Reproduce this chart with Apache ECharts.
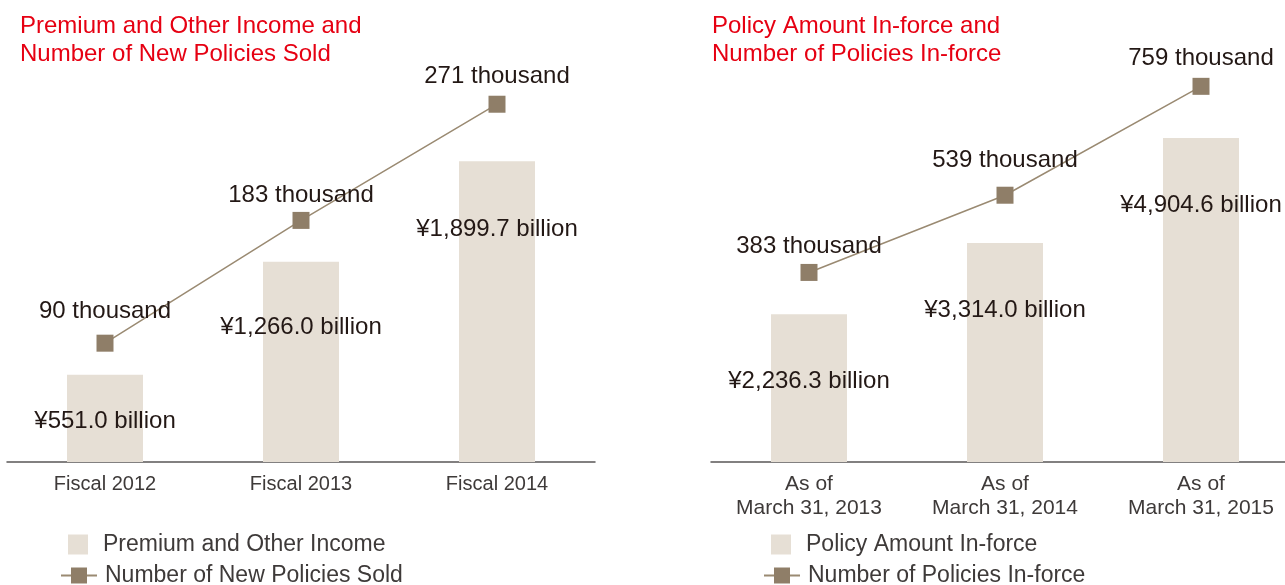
<!DOCTYPE html>
<html>
<head>
<meta charset="utf-8">
<script src="https://cdn.jsdelivr.net/npm/echarts@6/dist/echarts.min.js"></script>
<style>
html,body{margin:0;padding:0;background:#fff;}
#c{width:1285px;height:585px;}
</style>
</head>
<body>
<div id="c"></div>
<script>
// ---- data ----
const leftTitle = 'Premium and Other Income and\nNumber of New Policies Sold';
const rightTitle = 'Policy Amount In-force and\nNumber of Policies In-force';
const leftCategories = ['Fiscal 2012', 'Fiscal 2013', 'Fiscal 2014'];
const rightCategories = ['As of\nMarch 31, 2013', 'As of\nMarch 31, 2014', 'As of\nMarch 31, 2015'];
const leftBarName = 'Premium and Other Income';
const leftLineName = 'Number of New Policies Sold';
const rightBarName = 'Policy Amount In-force';
const rightLineName = 'Number of Policies In-force';
const premiumIncome = [551.0, 1266.0, 1899.7];      // ¥ billion
const newPolicies = [90, 183, 271];                 // thousand
const policyAmount = [2236.3, 3314.0, 4904.6];      // ¥ billion
const policiesInForce = [383, 539, 759];            // thousand

// ---- layout / style ----
const FONT = '"Liberation Sans", Arial, Helvetica, sans-serif';
const BAR_COLOR = '#e6dfd5';
const MARK_COLOR = '#8f7e68';
const LINE_COLOR = '#9a8a72';
const TEXT_COLOR = '#231815';
const AXIS_TEXT = '#3e3a39';
const TITLE_RED = '#e60012';
const GRID_TOP = 60, GRID_H = 402;
const leftBarMax = 2540, leftLineMax = 304.5;
const rightBarMax = 6083, rightLineMax = 812.2;
const leftBarLabelNudge = [-19, 0, 2];
const rightBarLabelNudge = [1, 1, 1];
const leftLineLabelNudge = [-3.5, 3, 0];
const rightLineLabelNudge = [2, -6.5, 0];

function fmtBillion(v) {
  const s = v.toFixed(1).split('.');
  return '¥' + s[0].replace(/\B(?=(\d{3})+(?!\d))/g, ',') + '.' + s[1] + ' billion';
}

function itemData(values, nudges) {
  return values.map((v, i) => ({ value: v, label: { offset: [0, nudges[i]] } }));
}

const chart = echarts.init(document.getElementById('c'), null, { renderer: 'canvas' });

function xAxis(gridIndex, data, fontSize) {
  return {
    type: 'category', gridIndex: gridIndex, data: data,
    axisTick: { show: false },
    axisLine: { lineStyle: { color: '#595757', width: 1.5 } },
    axisLabel: { color: AXIS_TEXT, fontSize: fontSize, fontFamily: FONT, lineHeight: 24, margin: 10 },
    splitLine: { show: false }
  };
}
function yAxis(gridIndex, max) {
  return { type: 'value', gridIndex: gridIndex, min: 0, max: max, show: false, splitLine: { show: false } };
}

function barSeries(name, values, xi, yi, nudges) {
  return {
    name: name, type: 'bar', xAxisIndex: xi, yAxisIndex: yi,
    data: itemData(values, nudges), barWidth: 76,
    itemStyle: { color: BAR_COLOR },
    label: {
      show: true, position: 'insideTop', distance: 54,
      formatter: p => fmtBillion(p.value),
      color: TEXT_COLOR, fontSize: 24, fontFamily: FONT
    },
    z: 2
  };
}
function lineSeries(name, values, xi, yi, nudges) {
  return {
    name: name, type: 'line', xAxisIndex: xi, yAxisIndex: yi,
    data: itemData(values, nudges),
    symbol: 'rect', symbolSize: 17,
    itemStyle: { color: MARK_COLOR },
    lineStyle: { color: LINE_COLOR, width: 1.5 },
    label: {
      show: true, position: 'top', distance: 7.5,
      formatter: p => p.value + ' thousand',
      color: TEXT_COLOR, fontSize: 24, fontFamily: FONT
    },
    z: 3
  };
}

function barLegend(left, top, name) {
  return {
    left: left, top: top, padding: 0, itemWidth: 20, itemHeight: 20,
    data: [{ name: name, icon: 'rect' }],
    textStyle: { color: AXIS_TEXT, fontSize: 23, fontFamily: FONT, padding: [0, 0, 0, 10] }
  };
}
function lineLegend(left, top, name) {
  return {
    left: left, top: top, padding: 0, itemWidth: 36, itemHeight: 20,
    data: [{ name: name }],
    textStyle: { color: AXIS_TEXT, fontSize: 23, fontFamily: FONT, padding: [0, 0, 0, 3] }
  };
}
function title(text, left) {
  return { text: text, left: left, top: 12, padding: 0,
    textStyle: { color: TITLE_RED, fontSize: 24, fontWeight: 'normal', fontFamily: FONT, lineHeight: 28 } };
}

chart.setOption({
  animation: false,
  backgroundColor: '#fff',
  title: [title(leftTitle, 20), title(rightTitle, 712)],
  legend: [
    barLegend(68, 533, leftBarName),
    lineLegend(60, 564, leftLineName),
    barLegend(771, 533, rightBarName),
    lineLegend(763, 564, rightLineName)
  ],
  grid: [
    { left: 7, width: 588, top: GRID_TOP, height: GRID_H, outerBoundsMode: 'none', containLabel: false },
    { left: 711, width: 588, top: GRID_TOP, height: GRID_H, outerBoundsMode: 'none', containLabel: false }
  ],
  xAxis: [xAxis(0, leftCategories, 20), xAxis(1, rightCategories, 21)],
  yAxis: [yAxis(0, leftBarMax), yAxis(0, leftLineMax), yAxis(1, rightBarMax), yAxis(1, rightLineMax)],
  series: [
    barSeries(leftBarName, premiumIncome, 0, 0, leftBarLabelNudge),
    lineSeries(leftLineName, newPolicies, 0, 1, leftLineLabelNudge),
    barSeries(rightBarName, policyAmount, 1, 2, rightBarLabelNudge),
    lineSeries(rightLineName, policiesInForce, 1, 3, rightLineLabelNudge)
  ]
});
</script>
</body>
</html>
